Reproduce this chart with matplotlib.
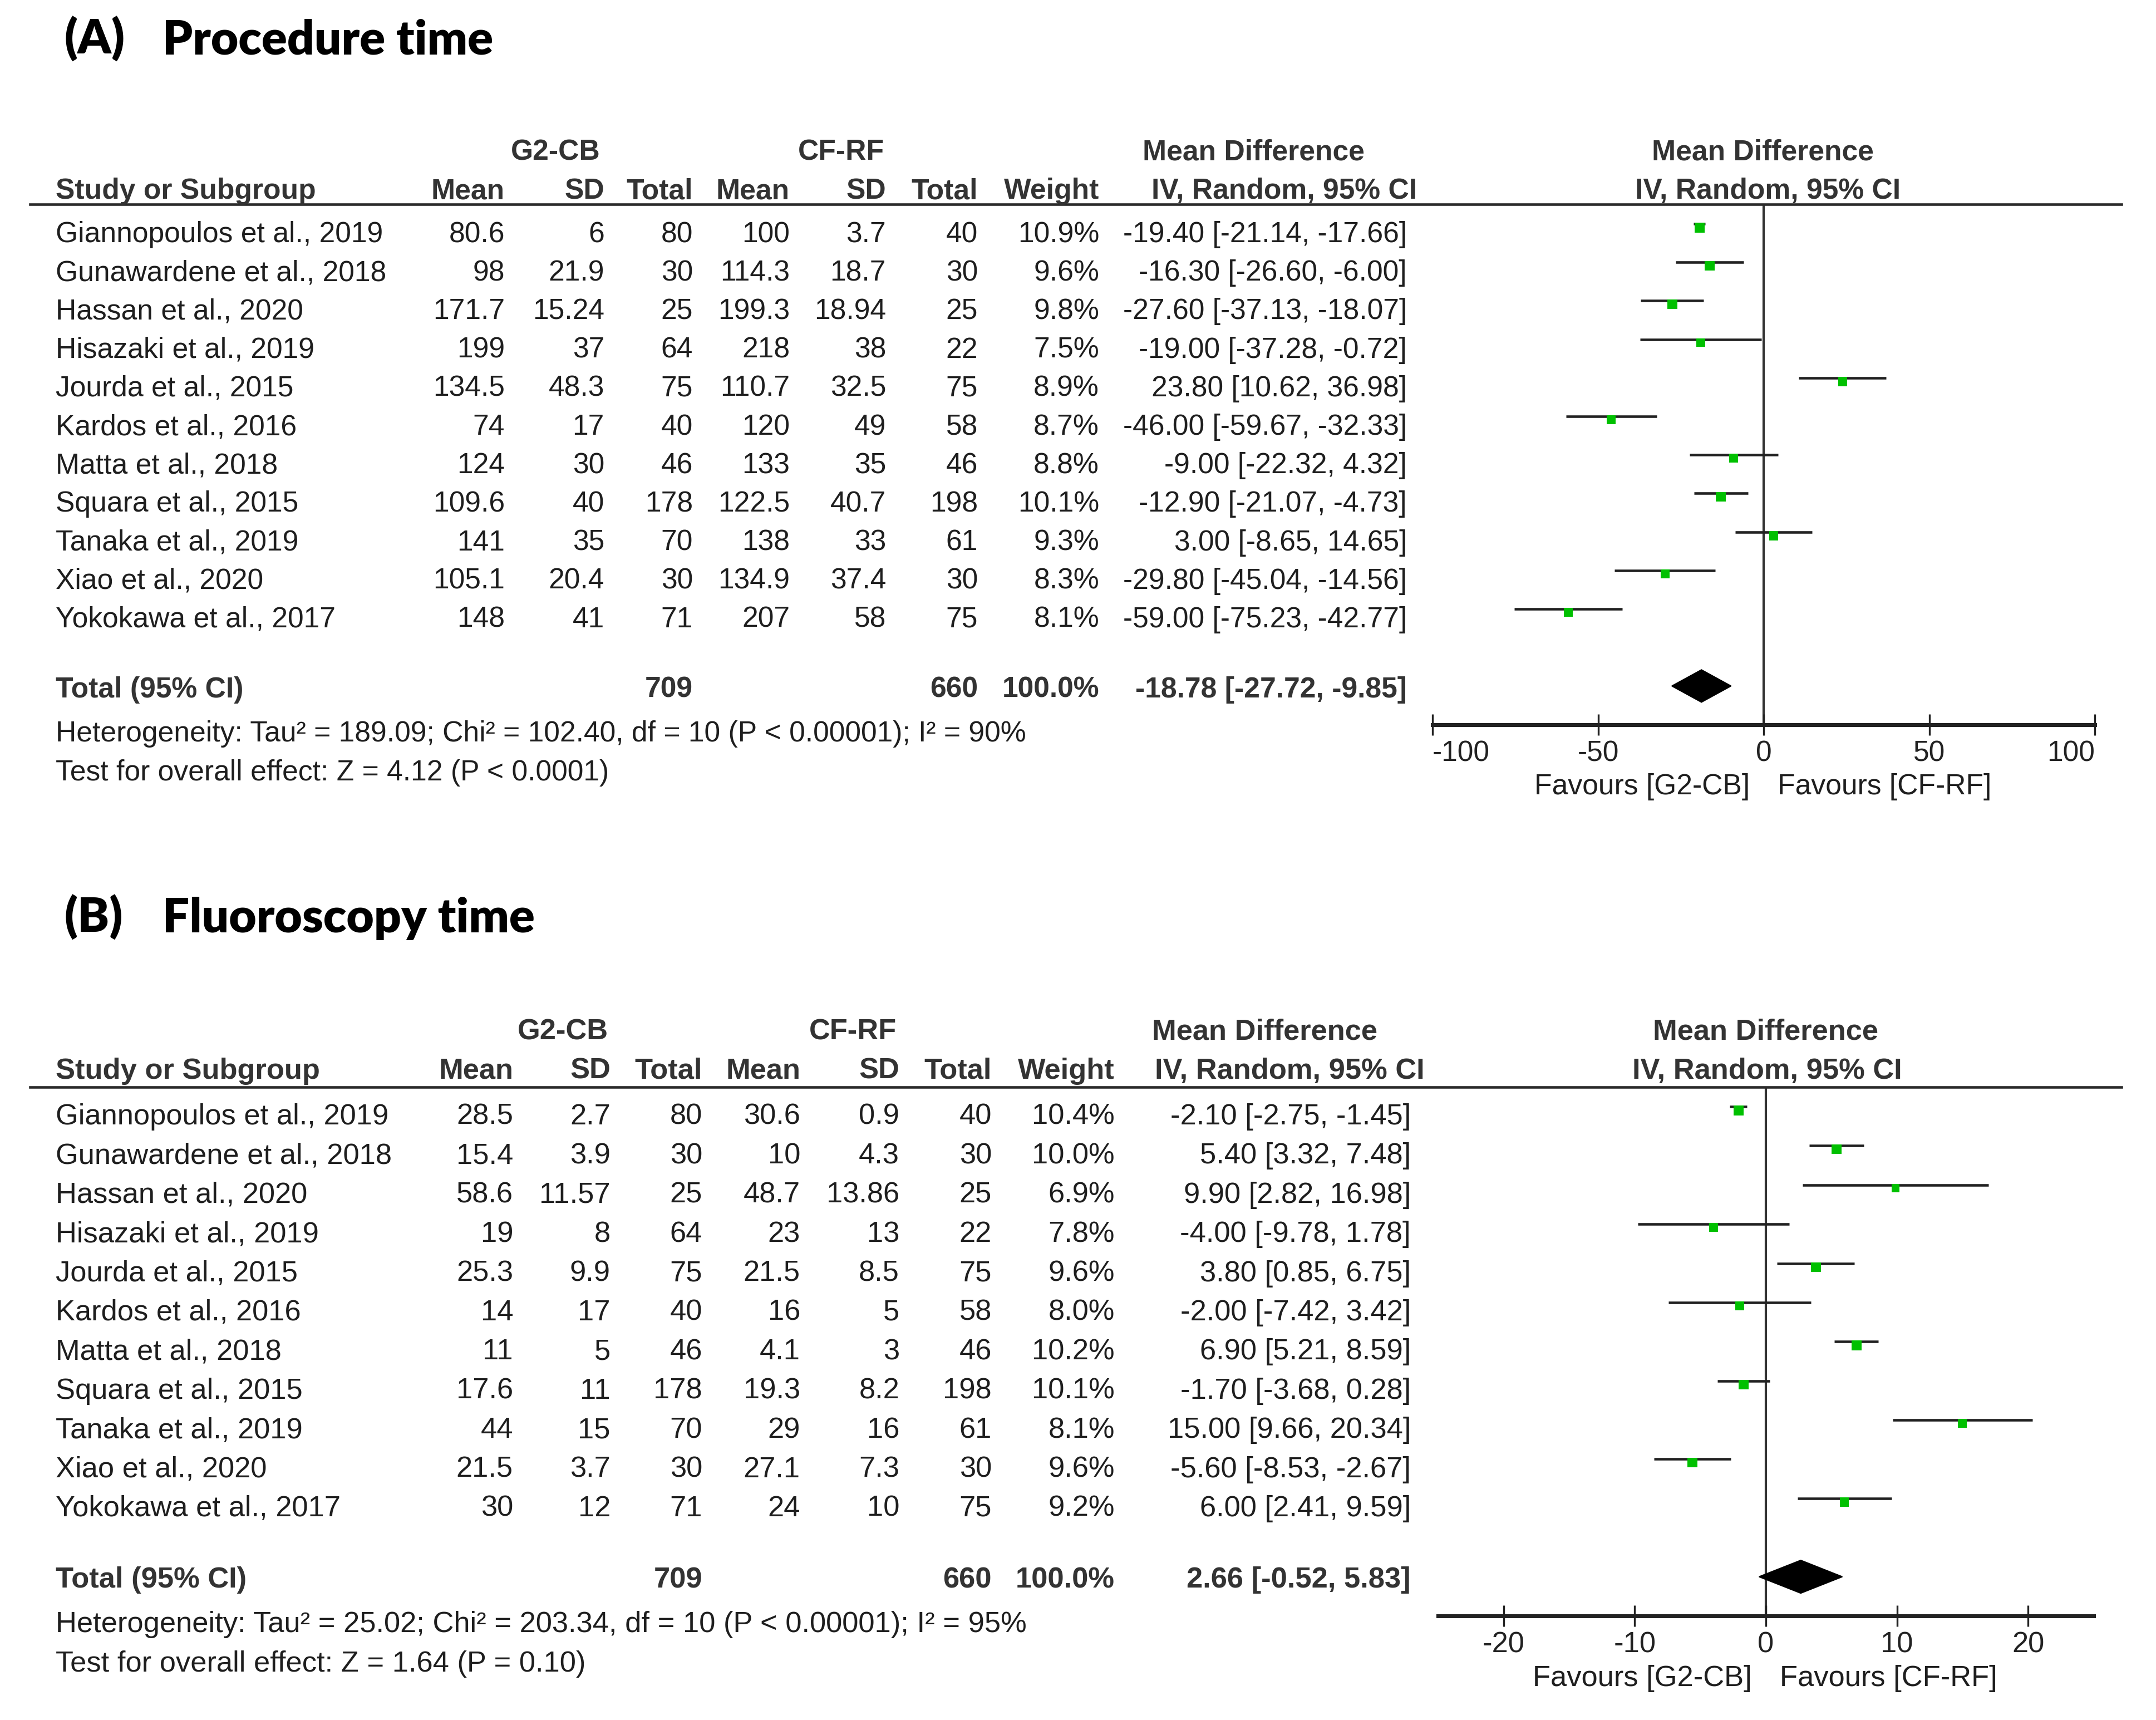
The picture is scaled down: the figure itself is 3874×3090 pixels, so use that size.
import matplotlib
matplotlib.use("Agg")
import matplotlib.pyplot as plt
from matplotlib.lines import Line2D
from matplotlib.patches import Polygon

plt.rcParams['font.family'] = ['Liberation Sans', 'DejaVu Sans']
plt.rcParams['axes.unicode_minus'] = False

# ---------------- data ----------------
studies = ["Giannopoulos et al., 2019", "Gunawardene et al., 2018", "Hassan et al., 2020",
           "Hisazaki et al., 2019", "Jourda et al., 2015", "Kardos et al., 2016",
           "Matta et al., 2018", "Squara et al., 2015", "Tanaka et al., 2019",
           "Xiao et al., 2020", "Yokokawa et al., 2017"]
n_g2 = [80, 30, 25, 64, 75, 40, 46, 178, 70, 30, 71]
n_cf = [40, 30, 25, 22, 75, 58, 46, 198, 61, 30, 75]

# (A) procedure time
a_g2_mean = [80.6, 98, 171.7, 199, 134.5, 74, 124, 109.6, 141, 105.1, 148]
a_g2_sd = [6, 21.9, 15.24, 37, 48.3, 17, 30, 40, 35, 20.4, 41]
a_cf_mean = [100, 114.3, 199.3, 218, 110.7, 120, 133, 122.5, 138, 134.9, 207]
a_cf_sd = [3.7, 18.7, 18.94, 38, 32.5, 49, 35, 40.7, 33, 37.4, 58]
a_weight = [10.9, 9.6, 9.8, 7.5, 8.9, 8.7, 8.8, 10.1, 9.3, 8.3, 8.1]
a_md = [-19.40, -16.30, -27.60, -19.00, 23.80, -46.00, -9.00, -12.90, 3.00, -29.80, -59.00]
a_lo = [-21.14, -26.60, -37.13, -37.28, 10.62, -59.67, -22.32, -21.07, -8.65, -45.04, -75.23]
a_hi = [-17.66, -6.00, -18.07, -0.72, 36.98, -32.33, 4.32, -4.73, 14.65, -14.56, -42.77]
a_total = (709, 660, 100.0, -18.78, -27.72, -9.85)
a_het = "Heterogeneity: Tau² = 189.09; Chi² = 102.40, df = 10 (P < 0.00001); I² = 90%"
a_test = "Test for overall effect: Z = 4.12 (P < 0.0001)"
a_ticks = [-100, -50, 0, 50, 100]

# (B) fluoroscopy time
b_g2_mean = [28.5, 15.4, 58.6, 19, 25.3, 14, 11, 17.6, 44, 21.5, 30]
b_g2_sd = [2.7, 3.9, 11.57, 8, 9.9, 17, 5, 11, 15, 3.7, 12]
b_cf_mean = [30.6, 10, 48.7, 23, 21.5, 16, 4.1, 19.3, 29, 27.1, 24]
b_cf_sd = [0.9, 4.3, 13.86, 13, 8.5, 5, 3, 8.2, 16, 7.3, 10]
b_weight = [10.4, 10.0, 6.9, 7.8, 9.6, 8.0, 10.2, 10.1, 8.1, 9.6, 9.2]
b_md = [-2.10, 5.40, 9.90, -4.00, 3.80, -2.00, 6.90, -1.70, 15.00, -5.60, 6.00]
b_lo = [-2.75, 3.32, 2.82, -9.78, 0.85, -7.42, 5.21, -3.68, 9.66, -8.53, 2.41]
b_hi = [-1.45, 7.48, 16.98, 1.78, 6.75, 3.42, 8.59, 0.28, 20.34, -2.67, 9.59]
b_total = (709, 660, 100.0, 2.66, -0.52, 5.83)
b_het = "Heterogeneity: Tau² = 25.02; Chi² = 203.34, df = 10 (P < 0.00001); I² = 95%"
b_test = "Test for overall effect: Z = 1.64 (P = 0.10)"
b_ticks = [-20, -10, 0, 10, 20]

W, H = 3874, 3090
fig = plt.figure(figsize=(W / 300, H / 300), dpi=300)
fig.patch.set_facecolor('white')

TXT = '#1e1e1e'
HDR = '#333333'
GREEN = '#00c000'


def fx(x):
    return x / W


def fy(y):
    return 1 - y / H


def put(x, y, s, ha='left', bold=False, size=12.4, color=None, **kw):
    fig.text(fx(x), fy(y), s, ha=ha, va='baseline', fontsize=size,
             fontweight=kw.pop('weight', 'bold' if bold else 'normal'),
             color=color or (HDR if bold else TXT), **kw)


def fmt(v):
    return f"{v:g}"


# square marker sitting just under the CI line
sq_marker = [(-1, -1.75), (1, -1.75), (1, 0.25), (-1, 0.25), (-1, -1.75)]


def panel(letter, title, ttl_y, cols, hdr, rows0, step, fsize,
          g2m, g2s, cfm, cfs, wt, md, lo, hi, total, het, test,
          ax_box, xlim, ticks, clamp_ends):
    # title
    put(115, ttl_y, letter, size=20.5, color='black', family='Lato', weight='heavy')
    put(292, ttl_y, title, size=20.5, color='black', family='Lato', weight='heavy')

    c = cols
    h1, h2 = hdr['y1'], hdr['y2']
    put(hdr['g2'], h1, "G2-CB", ha='center', bold=True, size=fsize)
    put(hdr['cf'], h1, "CF-RF", ha='center', bold=True, size=fsize)
    put(hdr['md1'], h1, "Mean Difference", ha='center', bold=True, size=fsize)
    put(hdr['md2'], h2, "IV, Random, 95% CI", ha='center', bold=True, size=fsize)
    put(hdr['fmd1'], h1, "Mean Difference", ha='center', bold=True, size=fsize)
    put(hdr['fmd2'], h2, "IV, Random, 95% CI", ha='center', bold=True, size=fsize)
    put(100, h2, "Study or Subgroup", bold=True, size=fsize)
    for key, lab in [('m1', 'Mean'), ('s1', 'SD'), ('t1', 'Total'), ('m2', 'Mean'),
                     ('s2', 'SD'), ('t2', 'Total'), ('w', 'Weight')]:
        put(c[key], h2, lab, ha='right', bold=True, size=fsize)

    fig.add_artist(Line2D([fx(54), fx(3812)], [fy(hdr['rule']), fy(hdr['rule'])],
                          transform=fig.transFigure, lw=1.1, color='#2a2a2a'))

    for i, name in enumerate(studies):
        y = rows0 + i * step
        put(100, y, name, size=fsize)
        put(c['m1'], y, fmt(g2m[i]), ha='right', size=fsize)
        put(c['s1'], y, fmt(g2s[i]), ha='right', size=fsize)
        put(c['t1'], y, str(n_g2[i]), ha='right', size=fsize)
        put(c['m2'], y, fmt(cfm[i]), ha='right', size=fsize)
        put(c['s2'], y, fmt(cfs[i]), ha='right', size=fsize)
        put(c['t2'], y, str(n_cf[i]), ha='right', size=fsize)
        put(c['w'], y, f"{wt[i]:.1f}%", ha='right', size=fsize)
        put(c['ci'], y, f"{md[i]:.2f} [{lo[i]:.2f}, {hi[i]:.2f}]", ha='right', size=fsize)

    ty = rows0 + 11.82 * step
    put(100, ty, "Total (95% CI)", bold=True, size=fsize)
    put(c['t1'], ty, str(total[0]), ha='right', bold=True, size=fsize)
    put(c['t2'], ty, str(total[1]), ha='right', bold=True, size=fsize)
    put(c['w'], ty, f"{total[2]:.1f}%", ha='right', bold=True, size=fsize)
    put(c['ci'], ty, f"{total[3]:.2f} [{total[4]:.2f}, {total[5]:.2f}]",
        ha='right', bold=True, size=fsize)
    put(100, ty + 1.14 * step, het, size=fsize)
    put(100, ty + 2.15 * step, test, size=fsize)

    # forest plot
    x0, x1, ytop, ybot = ax_box
    ax = fig.add_axes([fx(x0), fy(ybot), (x1 - x0) / W, (ybot - ytop) / H])
    ax.patch.set_visible(False)
    ax.set_xlim(*xlim)
    ax.set_ylim(13, -0.5)
    for s in ['left', 'right', 'top']:
        ax.spines[s].set_visible(False)
    ax.spines['bottom'].set_linewidth(1.7)
    ax.spines['bottom'].set_color('#222222')
    ax.set_yticks([])
    ax.set_xticks(ticks)
    labels = ax.set_xticklabels([str(t) for t in ticks])
    if clamp_ends:
        labels[0].set_horizontalalignment('left')
        labels[-1].set_horizontalalignment('right')
    ax.tick_params(axis='x', direction='inout', length=9, width=0.8, pad=2.2,
                   labelsize=fsize, colors='#222222')
    ax.axvline(0, color='#333333', lw=1.0, zorder=1)

    for i in range(len(studies)):
        ax.plot([lo[i], hi[i]], [i, i], color='#222222', lw=1.1,
                solid_capstyle='butt', zorder=2)
        ax.plot(md[i], i, marker=sq_marker, color=GREEN, mec='none',
                markersize=7.4 * (wt[i] / 10) ** 0.5, zorder=3)

    est, dlo, dhi = total[3], total[4], total[5]
    ax.add_patch(Polygon([(dlo, 12), (est, 11.58), (dhi, 12), (est, 12.42)],
                         closed=True, facecolor='black', edgecolor='black', lw=0.5,
                         zorder=3))

    ax.annotate("Favours [G2-CB]", xy=(0, 0), xycoords=('data', 'axes fraction'),
                xytext=(-6, -30.2), textcoords='offset points', ha='right',
                va='baseline', fontsize=fsize, color=TXT)
    ax.annotate("Favours [CF-RF]", xy=(0, 0), xycoords=('data', 'axes fraction'),
                xytext=(6, -30.2), textcoords='offset points', ha='left',
                va='baseline', fontsize=fsize, color=TXT)


panel("(A)", "Procedure time", 97,
      dict(m1=907, s1=1086, t1=1245, m2=1419, s2=1592, t2=1757, w=1975, ci=2528),
      dict(y1=287, y2=357, rule=367, g2=998, cf=1511, md1=2252, md2=2308,
           fmd1=3167, fmd2=3177),
      435, 69.2, 12.4,
      a_g2_mean, a_g2_sd, a_cf_mean, a_cf_sd, a_weight, a_md, a_lo, a_hi,
      a_total, a_het, a_test,
      (2574, 3764, 367.4, 1301.6), (-100, 100), a_ticks, True)

panel("(B)", "Fluoroscopy time", 1675,
      dict(m1=922, s1=1097, t1=1262, m2=1438, s2=1616, t2=1782, w=2003, ci=2535),
      dict(y1=1868, y2=1938, rule=1953, g2=1011, cf=1532, md1=2272, md2=2317,
           fmd1=3172, fmd2=3175),
      2020, 70.4, 12.6,
      b_g2_mean, b_g2_sd, b_cf_mean, b_cf_sd, b_weight, b_md, b_lo, b_hi,
      b_total, b_het, b_test,
      (2584, 3762, 1952.8, 2903), (-25, 25), b_ticks, False)

fig.savefig("out.png", dpi=300, facecolor='white')
